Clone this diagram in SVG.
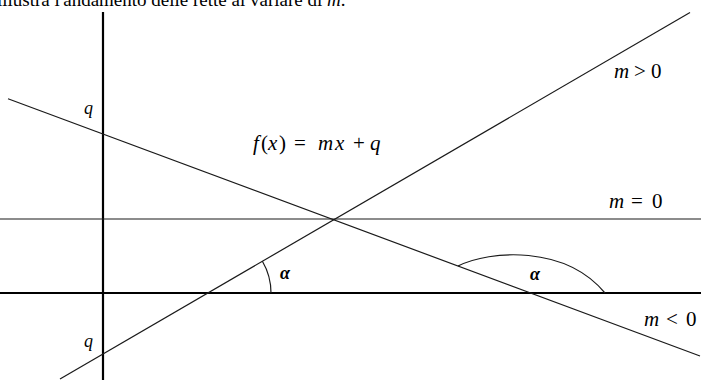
<svg xmlns="http://www.w3.org/2000/svg" width="701" height="380" viewBox="0 0 701 380">
<style>
.axis{stroke:#000;stroke-width:2.2;fill:none}
.thin{stroke:#1a1a1a;stroke-width:1.2;fill:none}
.m{font-family:"Liberation Serif","DejaVu Serif",serif;font-style:italic;font-size:21px;fill:#000}
.q{font-family:"Liberation Serif","DejaVu Serif",serif;font-style:italic;font-size:18px;fill:#000}
.r{font-style:normal}
.a{font-family:"Liberation Serif","DejaVu Serif",serif;font-style:italic;font-weight:bold;font-size:18px;fill:#000}
</style>
<rect width="701" height="380" fill="#fff"/>
<text x="-3" y="6" font-family="Liberation Serif, serif" font-size="19" fill="#000">illustra l'andamento delle rette al variare di <tspan font-style="italic">m</tspan>.</text>
<g id="connectors">
<line class="axis" x1="103" y1="12" x2="103" y2="380"/>
<line class="axis" x1="0" y1="293" x2="701" y2="293"/>
<line class="thin" x1="0" y1="219" x2="701" y2="219"/>
<line class="thin" x1="60" y1="379" x2="690" y2="12.5"/>
<line class="thin" x1="8" y1="98.7" x2="700" y2="356"/>
<path class="thin" d="M262.4,261.3 A63,63 0 0 1 271,293"/>
<path class="thin" d="M458,266 C490,250 565,245 605,293"/>
</g>
<g id="labels">
<text class="q" x="84" y="114">q</text>
<text class="q" x="84" y="347">q</text>
<text class="m" y="150"><tspan x="253">f</tspan><tspan class="r" x="261">(</tspan><tspan x="268">x</tspan><tspan class="r" x="279">)</tspan><tspan class="r" x="294">=</tspan><tspan x="318">m</tspan><tspan x="335">x</tspan><tspan class="r" x="353">+</tspan><tspan x="370">q</tspan></text>
<text class="m" y="78"><tspan x="614">m</tspan><tspan class="r" x="634">&gt;</tspan><tspan class="r" x="651">0</tspan></text>
<text class="m" y="208"><tspan x="609">m</tspan><tspan class="r" x="631">=</tspan><tspan class="r" x="652">0</tspan></text>
<text class="m" y="326"><tspan x="644">m</tspan><tspan class="r" x="666">&lt;</tspan><tspan class="r" x="686">0</tspan></text>
<text class="a" x="280" y="279">α</text>
<text class="a" x="530" y="280">α</text>
</g>
</svg>
